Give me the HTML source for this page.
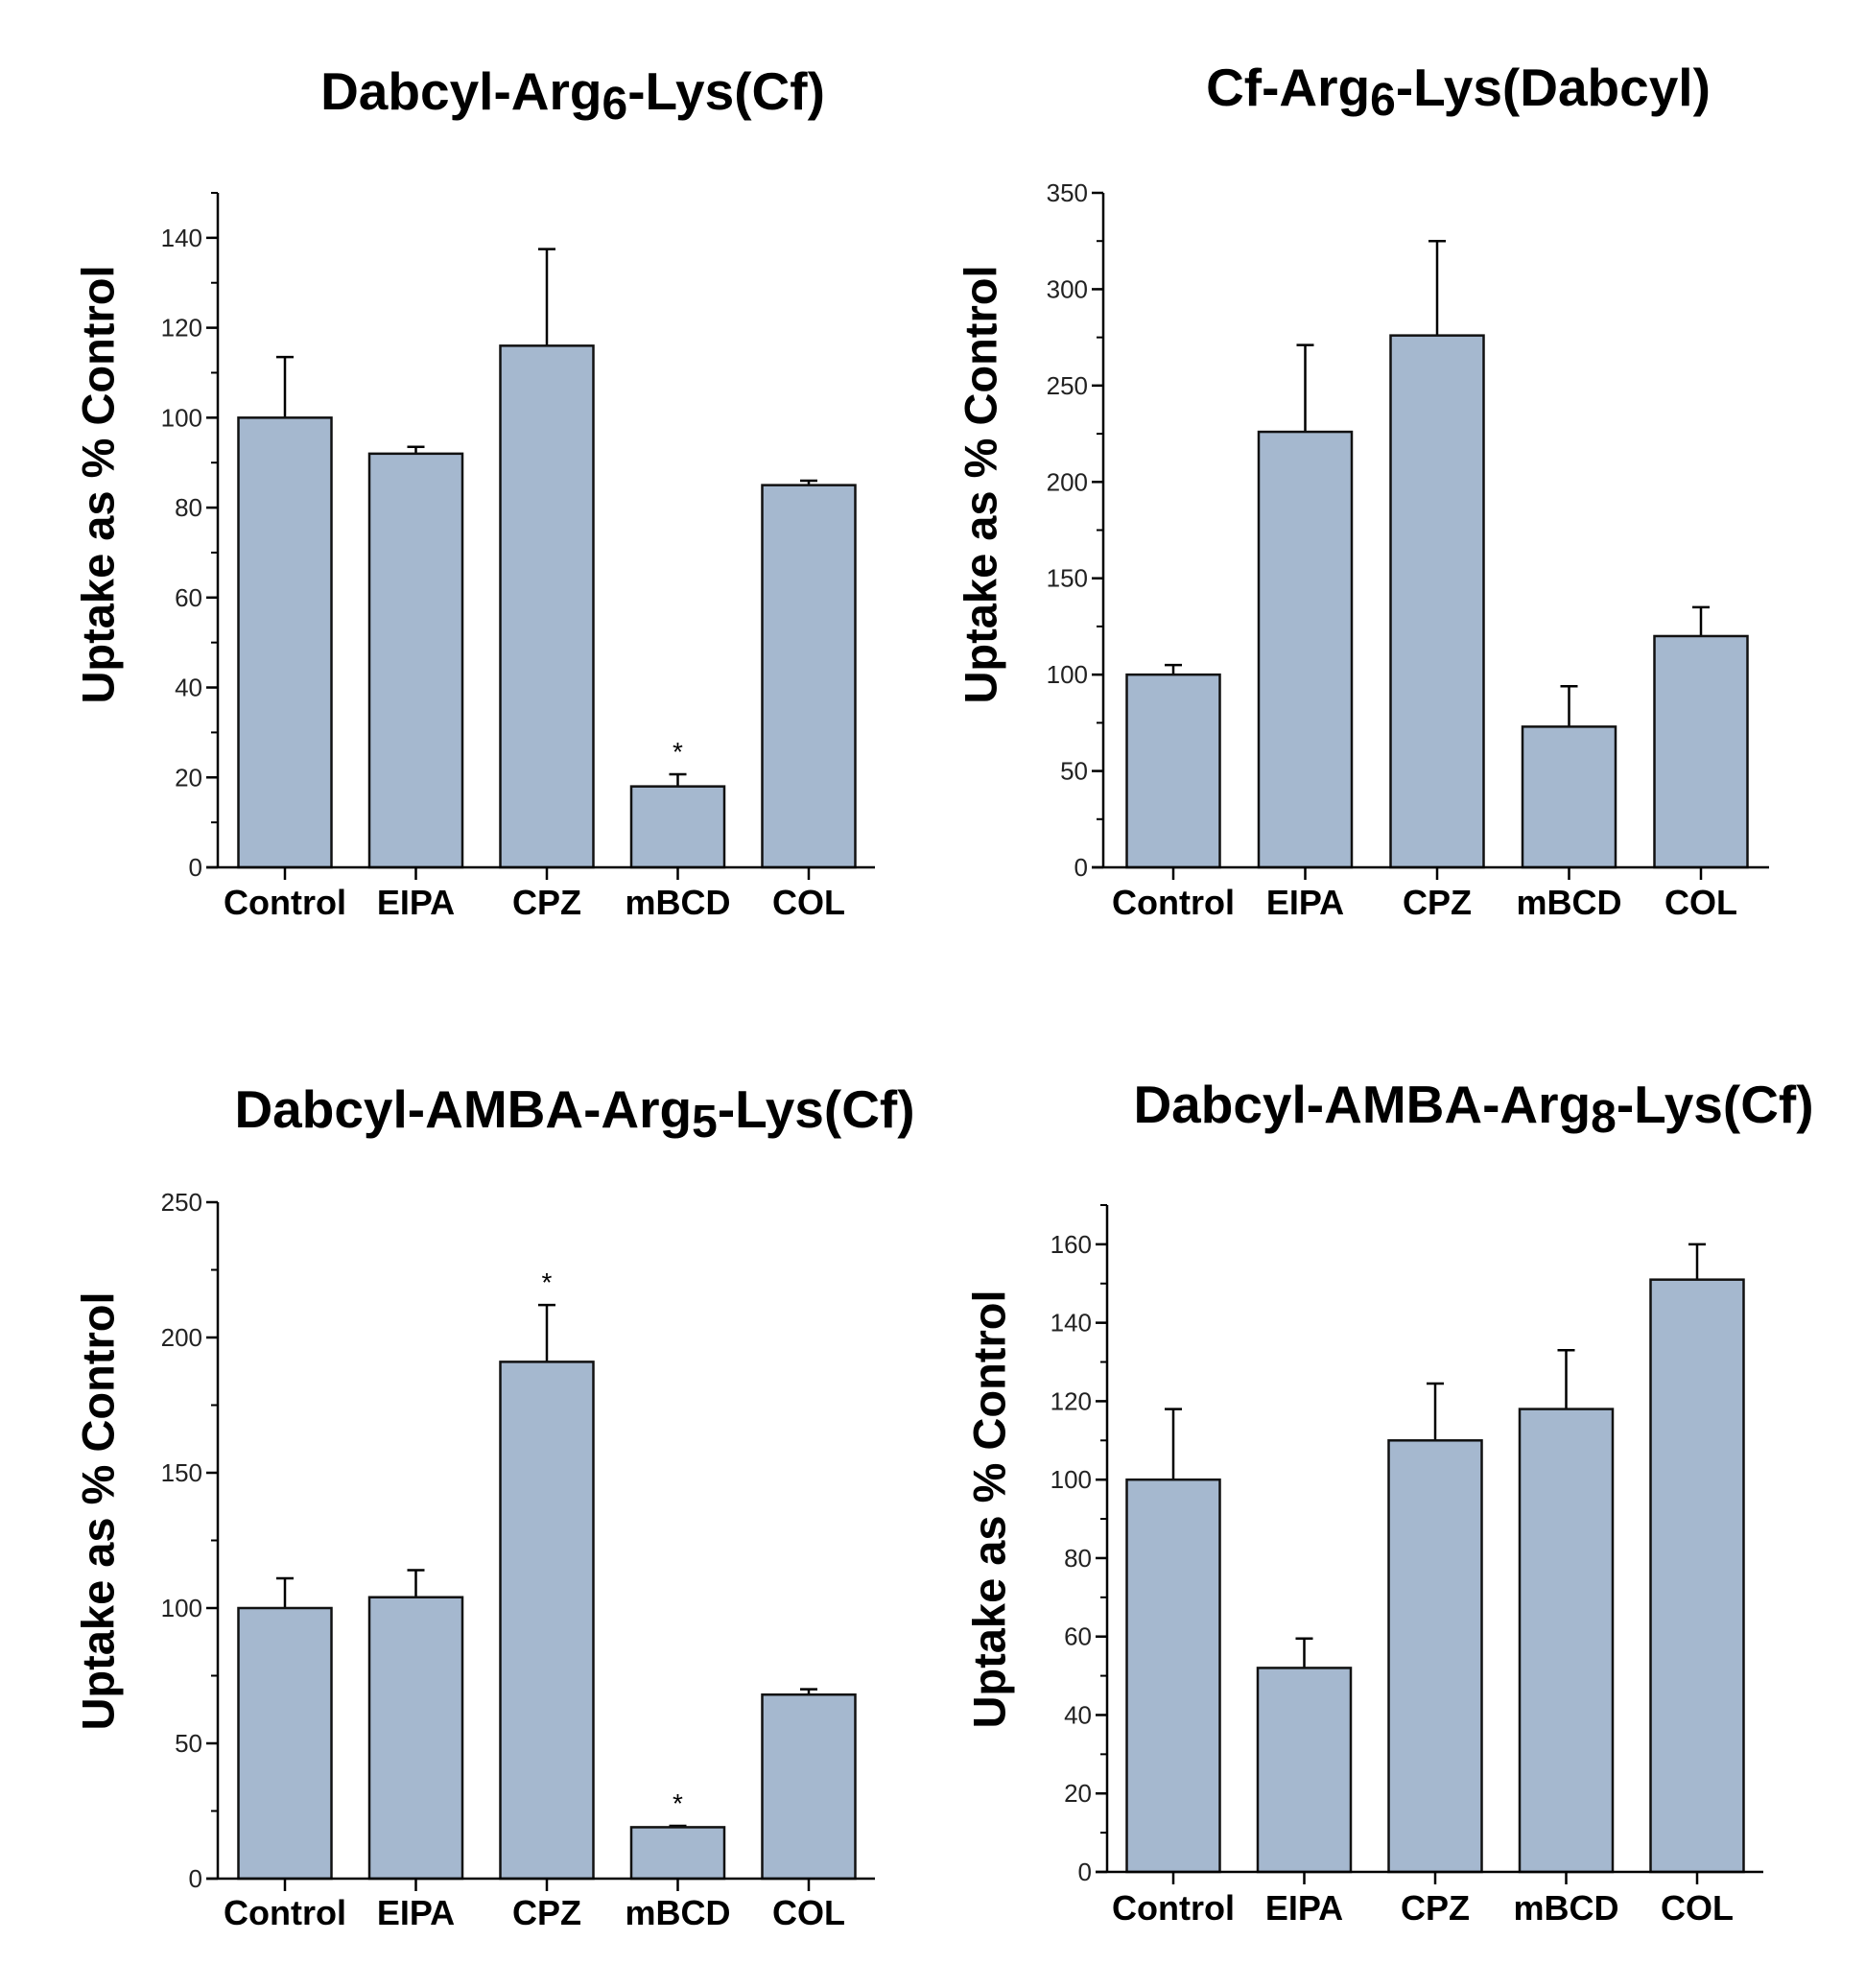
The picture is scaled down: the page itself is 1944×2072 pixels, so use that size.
<!DOCTYPE html>
<html><head><meta charset="utf-8"><style>
body{margin:0;background:#fff;}
svg{display:block;font-family:"Liberation Sans",Arial,sans-serif;}
</style></head><body>
<svg id="fig" width="1944" height="2072" viewBox="0 0 1944 2072"></svg>
<script>
const categories = ["Control","EIPA","CPZ","mBCD","COL"];
const p1Values = [100,92,116,18,85];
const p1Errors = [13.5,1.5,21.5,2.7,1];
const p1Stars = [false,false,false,true,false];
const p2Values = [100,226,276,73,120];
const p2Errors = [5,45,49,21,15];
const p2Stars = [false,false,false,false,false];
const p3Values = [100,104,191,19,68];
const p3Errors = [11,10,21,0.5,2];
const p3Stars = [false,false,true,true,false];
const p4Values = [100,52,110,118,151];
const p4Errors = [18,7.5,14.5,15,9];
const p4Stars = [false,false,false,false,false];
const p1Ticks = [0,20,40,60,80,100,120,140];
const p2Ticks = [0,50,100,150,200,250,300,350];
const p3Ticks = [0,50,100,150,200,250];
const p4Ticks = [0,20,40,60,80,100,120,140,160];

const NS="http://www.w3.org/2000/svg";
const svg=document.getElementById('fig');
function el(tag,attrs,parent,text){const e=document.createElementNS(NS,tag);for(const k in attrs)e.setAttribute(k,attrs[k]);if(text!==undefined)e.textContent=text;parent.appendChild(e);return e;}

const panels=[
 {id:'p1',title:['Dabcyl-Arg','6','-Lys(Cf)'],tx:597,ty:114,ax:227,top:201,base:904,max:150,minor:10,xend:912,x0:297,step:136.5,vals:p1Values,errs:p1Errors,stars:p1Stars,ticks:p1Ticks,ylx:102,yly:505,lab:953},
 {id:'p2',title:['Cf-Arg','6','-Lys(Dabcyl)'],tx:1520,ty:110,ax:1150,top:201,base:904,max:350,minor:25,xend:1844,x0:1223,step:137.5,vals:p2Values,errs:p2Errors,stars:p2Stars,ticks:p2Ticks,ylx:1022,yly:505,lab:953},
 {id:'p3',title:['Dabcyl-AMBA-Arg','5','-Lys(Cf)'],tx:599,ty:1175,ax:227,top:1253,base:1958,max:250,minor:25,xend:912,x0:297,step:136.5,vals:p3Values,errs:p3Errors,stars:p3Stars,ticks:p3Ticks,ylx:102,yly:1575,lab:2006},
 {id:'p4',title:['Dabcyl-AMBA-Arg','8','-Lys(Cf)'],tx:1536,ty:1170,ax:1154,top:1256,base:1951,max:170,minor:10,xend:1838,x0:1223,step:136.5,vals:p4Values,errs:p4Errors,stars:p4Stars,ticks:p4Ticks,ylx:1031,yly:1573,lab:2001}
];

panels.forEach(p=>{
 const g=el('g',{},svg);
 
 
 const y=v=>p.base-(v/p.max)*(p.base-p.top);
 const x=i=>p.x0+i*p.step;
 const t=el('text',{x:p.tx,y:p.ty,'text-anchor':'middle','font-size':55,'font-weight':'bold'},g);
 
 
 el('tspan',{},t,p.title[0]);
 el('tspan',{dy:10,'font-size':48},t,p.title[1]);
 el('tspan',{dy:-10},t,p.title[2]);
 const yl=el('text',{x:0,y:0,transform:`translate(${p.ylx},${p.yly}) rotate(-90)`,'text-anchor':'middle','dominant-baseline':'central','font-size':47,'font-weight':'bold'},g,'Uptake as % Control');
 
 
 p.vals.forEach((v,i)=>{
  const bw=97;
  const err=el('line',{x1:x(i),x2:x(i),y1:y(v),y2:y(v+p.errs[i]),stroke:'#000','stroke-width':2.5},g);
  
  
  el('line',{x1:x(i)-9,x2:x(i)+9,y1:y(v+p.errs[i]),y2:y(v+p.errs[i]),stroke:'#000','stroke-width':2.5},g);
  const r=el('rect',{x:x(i)-bw/2,y:y(v),width:bw,height:p.base-y(v),fill:'#a5b8cf',stroke:'#111','stroke-width':2.5},g);
  
  
  if(p.stars[i]){
   const s=el('text',{x:x(i),y:y(v+p.errs[i])-14,'text-anchor':'middle','font-size':28},g,'*');
   
   
  }
  el('line',{x1:x(i),x2:x(i),y1:p.base,y2:p.base+13,stroke:'#000','stroke-width':2.5},g);
  const lb=el('text',{x:x(i),y:p.lab,'text-anchor':'middle','font-size':36,'font-weight':'bold'},g,categories[i]);
  
  
 });
 const ya=el('line',{x1:p.ax,x2:p.ax,y1:p.top,y2:p.base,stroke:'#000','stroke-width':2.5},g);
 
 
 const xa=el('line',{x1:p.ax-12,x2:p.xend,y1:p.base,y2:p.base,stroke:'#000','stroke-width':2.5},g);
 
 
 for(let v=0;v<=p.max+0.01;v+=p.minor){
  el('line',{x1:p.ax-7,x2:p.ax,y1:y(v),y2:y(v),stroke:'#000','stroke-width':2},g);
 }
 p.ticks.forEach(v=>{
  el('line',{x1:p.ax-12,x2:p.ax,y1:y(v),y2:y(v),stroke:'#000','stroke-width':2.5},g);
  const tl=el('text',{x:p.ax-16,y:y(v)+9,'text-anchor':'end','font-size':26,fill:'#222'},g,String(v));
  
  
 });
});
</script>
</body></html>
